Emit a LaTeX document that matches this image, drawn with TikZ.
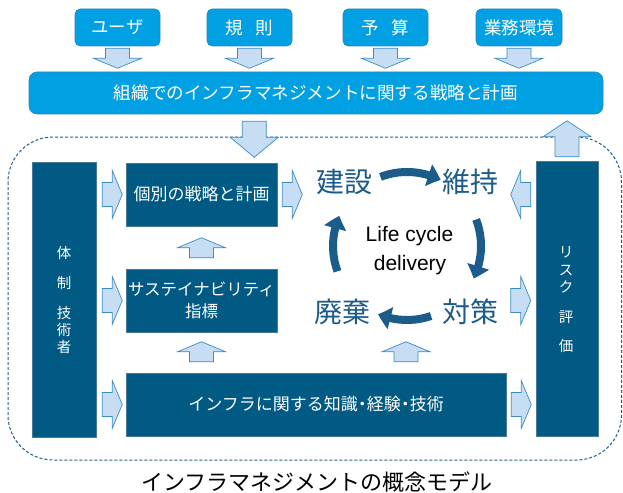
\documentclass[tikz,border=0pt]{standalone}
\usepackage{fontspec}
\setmainfont{Noto Sans CJK JP}
\newfontfamily\latinfont{Liberation Sans}
\usetikzlibrary{arrows.meta,bending,calc}
\definecolor{topblue}{HTML}{00A0E2}
\definecolor{topborder}{HTML}{2F86BC}
\definecolor{boxdark}{HTML}{005A84}
\definecolor{boxedge}{HTML}{4A7A98}
\definecolor{arrowfill}{HTML}{C6DDF3}
\definecolor{arrowline}{HTML}{3A8CC4}
\definecolor{cyclecol}{HTML}{1B5C8A}
\definecolor{framecol}{HTML}{1F5F85}
\begin{document}
\begin{tikzpicture}[x=1pt,y=-1pt,
  topbox/.style={draw=topborder, fill=topblue, rounded corners=5pt, text=white,
    line width=0.6pt, inner sep=0pt, font=\fontsize{17.5}{20}\selectfont},
  bigbox/.style={draw=topborder, fill=topblue, rounded corners=8pt, text=white,
    line width=0.6pt, inner sep=0pt, font=\fontsize{17.6}{20}\selectfont},
  darkrect/.style={draw=boxedge, fill=boxdark, text=white, line width=0.5pt,
    inner sep=0pt, font=\fontsize{17}{22}\selectfont},
  barrow/.style={draw=arrowline, fill=arrowfill, line width=0.7pt, line join=miter},
  cycleword/.style={text=cyclecol, font=\fontsize{28}{30}\selectfont, inner sep=0pt},
  cyclearrow/.style={draw=cyclecol, line width=8pt,
    -{Triangle[bend,length=13pt,width=22pt]}},
  pics/arrowR/.style={code={\draw[barrow] (0,-12) -- (10,-12) -- (10,-24) -- (20,0)
      -- (10,24) -- (10,12) -- (0,12) -- cycle;}},
  pics/arrowL/.style={code={\draw[barrow] (0,-12) -- (-10,-12) -- (-10,-24) -- (-20,0)
      -- (-10,24) -- (-10,12) -- (0,12) -- cycle;}},
  pics/arrowU/.style 2 args={code={\draw[barrow] (-12,0) -- (-12,-#1) -- (-24,-#1)
      -- (0,-#1-#2) -- (24,-#1) -- (12,-#1) -- (12,0) -- cycle;}},
  pics/arrowD/.style 2 args={code={\draw[barrow] (-12,0) -- (-12,#1) -- (-24,#1)
      -- (0,#1+#2) -- (24,#1) -- (12,#1) -- (12,0) -- cycle;}},
]
\useasboundingbox (0,0) rectangle (623,492);

% dashed frame
\draw[framecol, line width=1pt, dash pattern=on 3pt off 2pt, rounded corners=45pt]
  (8,137) rectangle (621.5,460);

% top boxes
\node[topbox, minimum width=85pt, minimum height=37pt] (user) at (117.5,27.5) {ユーザ};
\node[topbox, minimum width=85pt, minimum height=37pt] (rule) at (249.5,27.5) {規\hspace{13pt}則};
\node[topbox, minimum width=85pt, minimum height=37pt] (budget) at (385.5,27.5) {予\hspace{13pt}算};
\node[topbox, minimum width=86pt, minimum height=37pt] (env) at (519,27.5) {業務環境};

% big box
\node[bigbox, minimum width=574pt, minimum height=42pt] (big) at (316,93)
  {組織でのインフラマネジメントに関する戦略と計画};

% dark boxes
\node[darkrect, minimum width=64pt, minimum height=275pt] (taisei) at (64,299.5) {};
\node[text=white, align=center, inner sep=0pt, font=\fontsize{14.5}{17}\selectfont] (taiseitext) at (64,300)
  {体\\[13pt]制\\[13pt]技\\術\\者};
\node[darkrect, minimum width=62pt, minimum height=275pt] (risk) at (567,298.5) {};
\node[text=white, align=center, inner sep=0pt, font=\fontsize{14.5}{17.5}\selectfont] (risktext) at (566,300)
  {リ\\ス\\ク\\[12pt]評\\[12pt]価};
\node[darkrect, minimum width=151pt, minimum height=63pt] (kobetsu) at (201.5,194.5)
  {個別の戦略と計画};
\node[darkrect, minimum width=151pt, minimum height=63pt, align=center,
  font=\fontsize{16.5}{22}\selectfont] (sasute) at (201.5,300.5)
  {サステイナビリティ\\指標};
\node[darkrect, minimum width=380pt, minimum height=63pt] (chishiki) at (316,404.5)
  {インフラに関する知識{\hspace{-4pt}・\hspace{-4pt}}経験{\hspace{-4pt}・\hspace{-4pt}}技術};

% cycle words
\node[cycleword] (kensetsu) at (344,182) {建設};
\node[cycleword] (iji) at (470,182) {維持};
\node[cycleword] (haiki) at (342,312) {廃棄};
\node[cycleword] (taisaku) at (470,312) {対策};
\node[font=\latinfont\fontsize{21}{24}\selectfont, inner sep=0pt] (lc1) at (409.5,236) {Life cycle};
\node[font=\latinfont\fontsize{21}{24}\selectfont, inner sep=0pt] (lc2) at (410,265) {delivery};

% cycle arrows (circle centre)
\coordinate (cc) at (407,246);
\draw[cyclearrow] ($(cc)+(-111:74)$) arc[start angle=-111, end angle=-63, radius=74];
\draw[cyclearrow] ($(cc)+(-21:74)$) arc[start angle=-21, end angle=26, radius=74];
\draw[cyclearrow] ($(cc)+(71:74)$) arc[start angle=71, end angle=113, radius=74];
\draw[cyclearrow] ($(cc)+(160:74)$) arc[start angle=160, end angle=204, radius=74];

% block arrows from top boxes
\pic at ($(user.south)+(0,2)$) {arrowD={10}{10}};
\pic at ($(rule.south)+(0,2)$) {arrowD={10}{10}};
\pic at ($(budget.south)+(0,2)$) {arrowD={10}{10}};
\pic at ($(env.south)+(0,2)$) {arrowD={10}{10}};

% big box -> kobetsu
\coordinate (dA) at ($(big.south -| kobetsu.north east)+(-23,7)$);
\pic at (dA) {arrowD={16}{20}};
% risk -> big box
\coordinate (uR) at ($(risk.north)+(0,-4)$);
\pic at (uR) {arrowU={20}{16}};

% horizontal arrows
\pic at ($(taisei.east |- kobetsu.west)+(6,0)$) {arrowR};
\pic at ($(taisei.east |- sasute.west)+(6,0)$) {arrowR};
\pic at ($(taisei.east |- chishiki.west)+(6,0)$) {arrowR};
\pic at ($(kobetsu.east)+(5,0)$) {arrowR};
\pic at ($(chishiki.east)+(5,0)$) {arrowR};
\pic at ($(risk.west |- sasute.east)+(-25,0)$) {arrowR};
\pic at ($(risk.west |- kobetsu.east)+(-5,0)$) {arrowL};

% vertical small arrows
\pic at ($(sasute.north)+(0,-11)$) {arrowU={10}{10}};
\pic at ($(chishiki.north -| sasute.north)+(0,-11)$) {arrowU={10}{10}};
\pic at ($(chishiki.north -| cc)+(-1,-11)$) {arrowU={10}{10}};

% caption
\node[font=\fontsize{22}{24}\selectfont, inner sep=0pt] (caption) at (317,482)
  {インフラマネジメントの概念モデル};
\end{tikzpicture}
\end{document}
